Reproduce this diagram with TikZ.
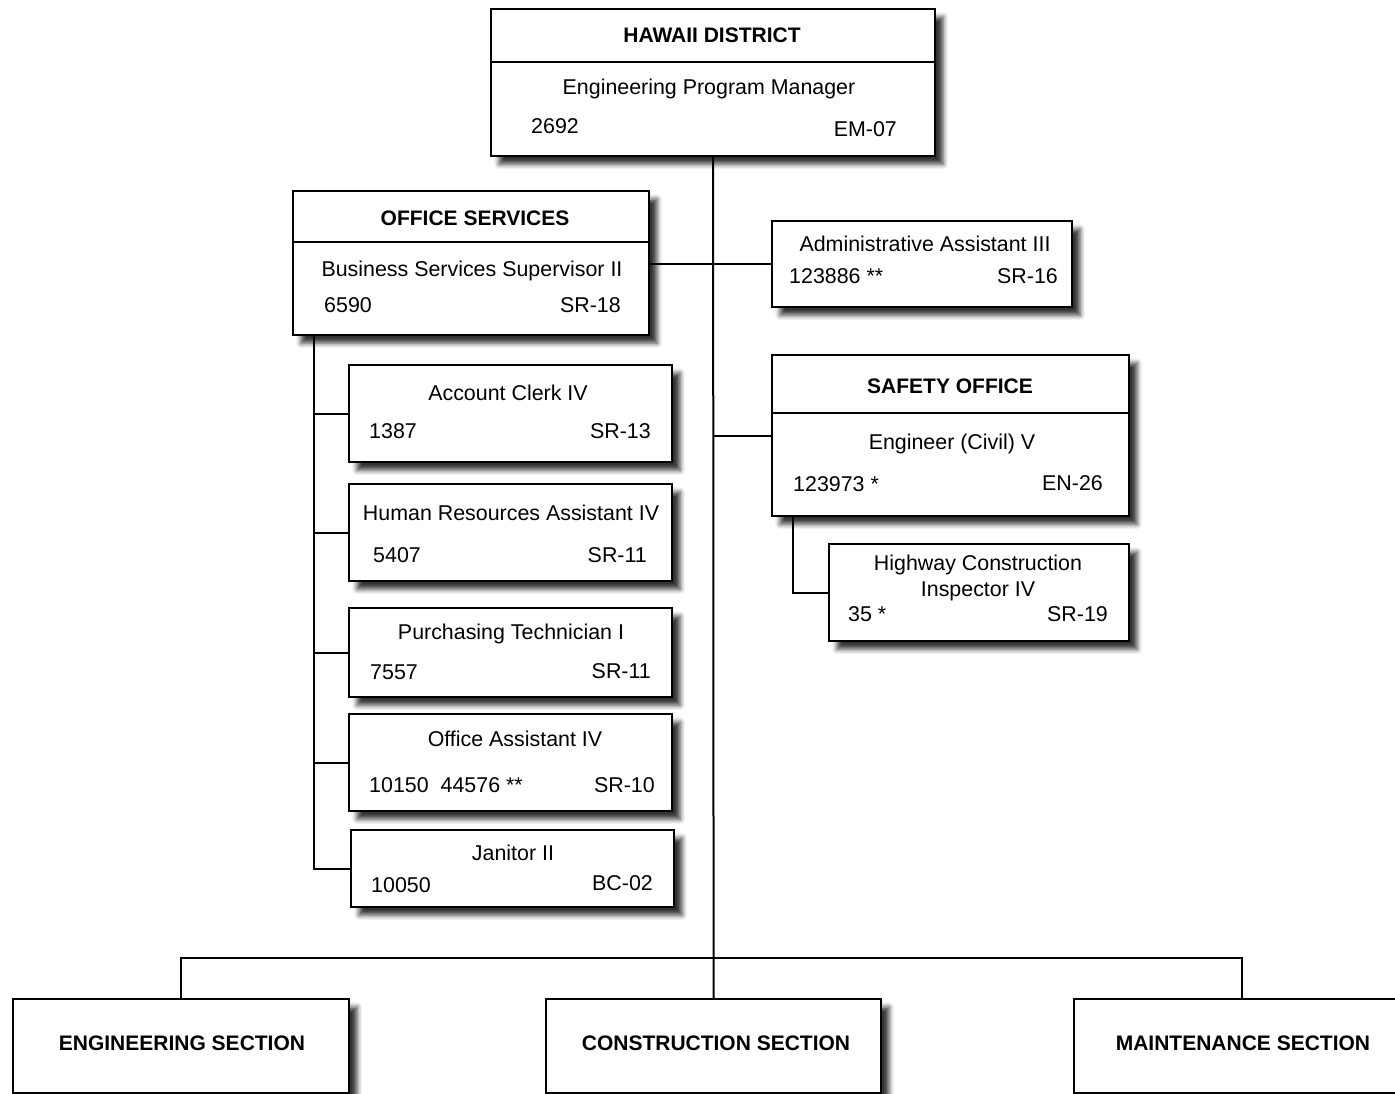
\documentclass[tikz,border=0pt]{standalone}
\usepackage{fontspec}
\setmainfont{Liberation Sans}
\usetikzlibrary{shadows.blur}
\begin{document}
\begin{tikzpicture}[x=1pt,y=-1pt,
  box/.style={draw, line width=2.2pt, fill=white, rectangle, inner sep=0pt, anchor=north west,
    blur shadow={shadow xshift=8pt, shadow yshift=-8pt, shadow opacity=80, shadow blur radius=5pt}},
  txt/.style={font=\fontsize{21.4}{25}\selectfont, inner sep=0pt, text height=15.4pt, text depth=0pt},
  ttl/.style={font=\fontsize{21}{25}\selectfont\bfseries, inner sep=0pt, text height=15pt, text depth=0pt},
  conn/.style={line width=2pt},
  divl/.style={line width=1.5pt}]
\useasboundingbox (0,0) rectangle (1395,1093);
\clip (0,0) rectangle (1395,1093);

% boxes
\node[box, minimum width=444pt, minimum height=147pt] (hd) at (490,8) {};
\node[box, minimum width=356pt, minimum height=144pt] (os) at (292,190) {};
\node[box, minimum width=300pt, minimum height=86pt] (aa) at (771,220) {};
\node[box, minimum width=357pt, minimum height=161pt] (so) at (771,354) {};
\node[box, minimum width=300pt, minimum height=97pt] (hi) at (828,543) {};
\node[box, minimum width=323pt, minimum height=97pt] (ac) at (348,364) {};
\node[box, minimum width=323pt, minimum height=97pt] (hr) at (348,483) {};
\node[box, minimum width=323pt, minimum height=89pt] (pt) at (348,607) {};
\node[box, minimum width=323pt, minimum height=97pt] (oa) at (348,713) {};
\node[box, minimum width=323pt, minimum height=77pt] (jn) at (350,829) {};
\node[box, minimum width=336pt, minimum height=94pt] (es) at (12,998) {};
\node[box, minimum width=335pt, minimum height=94pt] (cs) at (545,998) {};
\node[box, minimum width=336pt, minimum height=94pt] (ms) at (1073,998) {};

% dividers
\draw[divl] ([yshift=-54pt]hd.north west) -- ([yshift=-54pt]hd.north east);
\draw[divl] ([yshift=-52pt]os.north west) -- ([yshift=-52pt]os.north east);
\draw[divl] ([yshift=-59pt]so.north west) -- ([yshift=-59pt]so.north east);

% texts
\node[ttl] (t1) at (712,35) {HAWAII DISTRICT};
\node[txt] (t2) at (709,87) {Engineering Program Manager};
\node[txt, anchor=west] (t3) at (531,126) {2692};
\node[txt, anchor=east] (t4) at (897,129) {EM-07};

\node[ttl] (t5) at (475,218) {OFFICE SERVICES};
\node[txt] (t6) at (472,269) {Business Services Supervisor II};
\node[txt, anchor=west] (t7) at (324,305) {6590};
\node[txt, anchor=east] (t8) at (621,305) {SR-18};

\node[txt] (t9) at (925,244) {Administrative Assistant III};
\node[txt, anchor=west] (t10) at (789,276) {123886 **};
\node[txt, anchor=east] (t11) at (1058,276) {SR-16};

\node[ttl] (t12) at (950,386) {SAFETY OFFICE};
\node[txt] (t13) at (952,442) {Engineer (Civil) V};
\node[txt, anchor=west] (t14) at (793,484) {123973 *};
\node[txt, anchor=east] (t15) at (1103,483) {EN-26};

\node[txt] (t16) at (978,563) {Highway Construction};
\node[txt] (t17) at (978,589) {Inspector IV};
\node[txt, anchor=west] (t18) at (848,614) {35 *};
\node[txt, anchor=east] (t19) at (1108,614) {SR-19};

\node[txt] (t20) at (508,393) {Account Clerk IV};
\node[txt, anchor=west] (t21) at (369,431) {1387};
\node[txt, anchor=east] (t22) at (651,431) {SR-13};

\node[txt] (t23) at (511,513) {Human Resources Assistant IV};
\node[txt, anchor=west] (t24) at (373,555) {5407};
\node[txt, anchor=east] (t25) at (647,555) {SR-11};

\node[txt] (t26) at (511,632) {Purchasing Technician I};
\node[txt, anchor=west] (t27) at (370,672) {7557};
\node[txt, anchor=east] (t28) at (651,671) {SR-11};

\node[txt] (t29) at (515,739) {Office Assistant IV};
\node[txt, anchor=west] (t30) at (369,785) {10150\hspace{12pt}44576 **};
\node[txt, anchor=east] (t31) at (655,785) {SR-10};

\node[txt] (t32) at (513,853) {Janitor II};
\node[txt, anchor=west] (t33) at (371,885) {10050};
\node[txt, anchor=east] (t34) at (653,883) {BC-02};

\node[ttl] (t35) at (182,1043) {ENGINEERING SECTION};
\node[ttl] (t36) at (716,1043) {CONSTRUCTION SECTION};
\node[ttl] (t37) at (1243,1043) {MAINTENANCE SECTION};

% connectors
\draw[conn] (hd.south) -- (cs.north);
\draw[conn] (es.north) -- ++(0,-40) -| (ms.north);
\draw[conn] (os.east |- aa.west) -- (aa.west);
\draw[conn] (so.west) -- (so.west -| hd.south);
\coordinate (osb) at ([xshift=22pt]os.south west);
\draw[conn] (osb) |- (jn.west);
\draw[conn] (osb |- ac.west) -- (ac.west);
\draw[conn] (osb |- hr.west) -- (hr.west);
\draw[conn] (osb |- pt.west) -- (pt.west);
\draw[conn] (osb |- oa.west) -- (oa.west);
\coordinate (sob) at ([xshift=22pt]so.south west);
\draw[conn] (sob) |- (hi.west);
\end{tikzpicture}
\end{document}
